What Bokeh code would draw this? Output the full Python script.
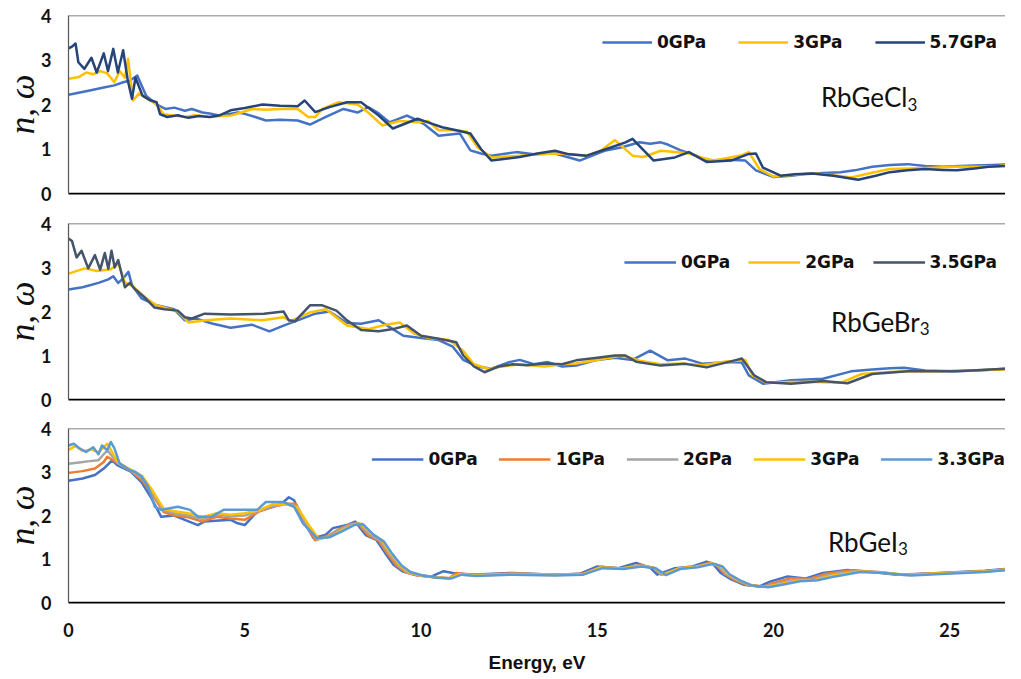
from bokeh.plotting import figure
from bokeh.models import Range1d, FixedTicker, Span, Label
from bokeh.layouts import column
from bokeh.embed import file_html
from bokeh.resources import INLINE

# ---------------- data (energy in eV, refractive index n) ----------------
# RbGeCl3
cl_0_e = [0, 0.5, 1.0, 1.3, 1.55, 1.75, 1.95, 2.2, 2.5, 2.75, 3.0, 3.3, 3.5, 3.8, 4.0, 4.3, 4.8, 5.0, 5.3, 5.6, 6.0, 6.5, 6.85, 7.3, 7.8, 8.2, 8.5, 8.8, 9.1, 9.6, 9.8, 10.1, 10.5, 11.1, 11.4, 11.7, 12.0, 12.7, 13.2, 13.8, 14.5, 15.2, 15.7, 16.2, 16.5, 16.8, 17.0, 17.4, 17.8, 18.1, 18.7, 19.2, 19.5, 20.0, 20.5, 20.9, 21.4, 21.9, 22.3, 22.8, 23.3, 23.8, 24.3, 24.8, 25.3, 25.7, 26.2, 26.8]
cl_0_n = [2.22, 2.3, 2.38, 2.43, 2.5, 2.54, 2.65, 2.2, 2.0, 1.9, 1.93, 1.86, 1.9, 1.82, 1.8, 1.75, 1.82, 1.79, 1.72, 1.64, 1.66, 1.64, 1.55, 1.72, 1.9, 1.82, 1.94, 1.8, 1.6, 1.75, 1.68, 1.55, 1.3, 1.35, 0.97, 0.9, 0.85, 0.93, 0.88, 0.9, 0.74, 0.96, 1.04, 1.15, 1.12, 1.15, 1.1, 0.96, 0.85, 0.74, 0.76, 0.74, 0.52, 0.37, 0.4, 0.44, 0.46, 0.48, 0.52, 0.6, 0.64, 0.66, 0.62, 0.6, 0.62, 0.63, 0.64, 0.66]

cl_3_e = [0, 0.3, 0.5, 0.7, 0.9, 1.1, 1.3, 1.45, 1.6, 1.69, 1.83, 2.0, 2.2, 2.5, 2.7, 3.0, 3.3, 3.6, 4.0, 4.3, 4.6, 4.9, 5.2, 5.6, 6.0, 6.5, 6.8, 7.0, 7.2, 7.66, 8.2, 8.5, 8.9, 9.4, 9.9, 10.2, 10.5, 11.0, 11.3, 11.6, 12.0, 12.8, 13.3, 13.8, 14.3, 14.7, 15.1, 15.5, 16.0, 16.3, 16.8, 17.2, 17.6, 18.0, 18.3, 18.7, 19.1, 19.3, 19.6, 20.0, 20.6, 21.2, 21.8, 22.2, 22.7, 23.3, 23.9, 24.5, 25.1, 25.8, 26.4, 26.8]
cl_3_n = [2.58, 2.62, 2.72, 2.68, 2.75, 2.7, 2.5, 2.75, 2.6, 3.03, 2.09, 2.25, 2.15, 2.0, 1.78, 1.75, 1.72, 1.76, 1.72, 1.74, 1.75, 1.82, 1.9, 1.88, 1.9, 1.9, 1.72, 1.72, 1.9, 2.05, 2.0, 1.82, 1.53, 1.63, 1.6, 1.63, 1.42, 1.42, 1.39, 1.04, 0.81, 0.85, 0.88, 0.9, 0.88, 0.85, 0.96, 1.2, 0.85, 0.82, 0.96, 0.93, 0.9, 0.8, 0.74, 0.8, 0.86, 0.93, 0.55, 0.38, 0.42, 0.45, 0.4, 0.36, 0.45, 0.55, 0.56, 0.58, 0.6, 0.6, 0.62, 0.65]

cl_57_e = [0, 0.1, 0.2, 0.28, 0.45, 0.65, 0.8, 1.0, 1.12, 1.27, 1.4, 1.55, 1.68, 1.8, 1.9, 2.1, 2.3, 2.5, 2.6, 2.8, 3.1, 3.4, 3.7, 4.0, 4.3, 4.6, 5.0, 5.5, 6.0, 6.5, 6.7, 7.0, 7.4, 7.9, 8.3, 8.8, 9.2, 9.9, 10.3, 10.6, 11.0, 11.4, 11.7, 12.0, 12.8, 13.3, 13.8, 14.2, 14.7, 15.3, 15.8, 16.0, 16.6, 17.2, 17.6, 18.1, 18.8, 19.3, 19.5, 19.7, 20.2, 20.6, 21.1, 21.7, 22.4, 22.9, 23.3, 23.8, 24.3, 24.8, 25.2, 25.7, 26.1, 26.8]
cl_57_n = [3.26, 3.3, 3.37, 2.95, 2.8, 3.05, 2.72, 3.15, 2.75, 3.25, 2.72, 3.22, 2.55, 2.13, 2.6, 2.2, 2.1, 2.05, 1.78, 1.72, 1.76, 1.7, 1.74, 1.72, 1.76, 1.87, 1.92, 2.0, 1.97, 1.96, 2.09, 1.83, 1.94, 2.05, 2.05, 1.75, 1.46, 1.68, 1.57, 1.49, 1.42, 1.35, 1.0, 0.74, 0.82, 0.9, 0.96, 0.88, 0.85, 1.01, 1.15, 1.23, 0.74, 0.81, 0.93, 0.71, 0.74, 0.89, 0.9, 0.58, 0.4, 0.43, 0.45, 0.4, 0.31, 0.4, 0.48, 0.52, 0.55, 0.53, 0.52, 0.56, 0.6, 0.63]

# RbGeBr3
br_0_e = [0, 0.4, 0.85, 1.13, 1.27, 1.41, 1.55, 1.7, 1.8, 2.07, 2.5, 3.0, 3.3, 3.6, 4.1, 4.6, 5.2, 5.7, 6.1, 6.5, 7.0, 7.4, 7.9, 8.3, 8.8, 9.2, 9.5, 10.0, 10.5, 10.9, 11.2, 11.6, 12.0, 12.5, 12.8, 13.2, 13.6, 14.0, 14.4, 15.0, 15.5, 16.0, 16.5, 17.0, 17.5, 18.0, 18.7, 19.1, 19.3, 19.7, 20.5, 21.4, 22.2, 22.8, 23.3, 23.7, 24.3, 25.0, 25.8, 26.8]
br_0_n = [2.5, 2.55, 2.65, 2.73, 2.8, 2.65, 2.75, 2.9, 2.6, 2.3, 2.14, 2.05, 1.8, 1.84, 1.72, 1.63, 1.7, 1.55, 1.68, 1.8, 1.95, 2.0, 1.74, 1.72, 1.8, 1.6, 1.45, 1.4, 1.35, 1.2, 0.9, 0.75, 0.7, 0.85, 0.9, 0.8, 0.85, 0.75, 0.77, 0.9, 0.95, 0.9, 1.11, 0.89, 0.93, 0.81, 0.85, 0.84, 0.55, 0.36, 0.44, 0.47, 0.64, 0.68, 0.71, 0.72, 0.66, 0.64, 0.66, 0.71]

br_2_e = [0, 0.47, 0.8, 1.2, 1.41, 1.6, 1.8, 2.2, 2.5, 3.1, 3.4, 3.9, 4.6, 5.5, 6.1, 6.3, 6.85, 7.3, 7.9, 8.5, 9.0, 9.4, 9.8, 10.2, 10.8, 11.2, 11.5, 11.9, 12.3, 12.8, 13.5, 14.0, 14.4, 15.0, 15.7, 16.2, 16.8, 17.4, 18.0, 18.6, 19.2, 19.4, 19.8, 20.5, 21.2, 21.9, 22.5, 23.2, 23.8, 24.6, 25.5, 26.8]
br_2_n = [2.86, 2.98, 2.92, 2.96, 3.1, 2.66, 2.59, 2.3, 2.14, 2.0, 1.75, 1.8, 1.84, 1.8, 1.87, 1.78, 1.98, 2.05, 1.68, 1.6, 1.7, 1.75, 1.5, 1.4, 1.35, 1.1, 0.8, 0.7, 0.75, 0.8, 0.75, 0.8, 0.82, 0.9, 1.0, 0.88, 0.8, 0.82, 0.78, 0.86, 0.9, 0.55, 0.38, 0.4, 0.4, 0.38, 0.58, 0.62, 0.64, 0.64, 0.66, 0.69]

br_35_e = [0, 0.1, 0.23, 0.37, 0.56, 0.75, 0.9, 1.03, 1.13, 1.22, 1.31, 1.41, 1.6, 1.74, 1.88, 2.16, 2.44, 2.72, 3.1, 3.3, 3.5, 3.86, 4.6, 5.54, 6.1, 6.25, 6.43, 6.85, 7.2, 7.6, 7.9, 8.3, 8.8, 9.2, 9.6, 10.0, 10.5, 11.0, 11.2, 11.5, 11.8, 12.2, 12.6, 13.0, 13.5, 14.0, 14.4, 15.0, 15.5, 15.8, 16.1, 16.8, 17.5, 18.1, 18.9, 19.1, 19.45, 19.8, 20.5, 21.4, 22.1, 22.8, 23.8, 25.2, 26.8]
br_35_n = [3.66, 3.6, 3.23, 3.38, 2.98, 3.28, 2.95, 3.33, 2.97, 3.38, 3.0, 3.17, 2.55, 2.65, 2.51, 2.32, 2.09, 2.05, 2.02, 1.87, 1.84, 1.95, 1.93, 1.95, 2.0, 1.8, 1.78, 2.14, 2.14, 2.02, 1.8, 1.58, 1.55, 1.6, 1.68, 1.45, 1.38, 1.3, 1.0, 0.75, 0.62, 0.75, 0.8, 0.78, 0.82, 0.8, 0.89, 0.95, 1.0, 1.0, 0.86, 0.77, 0.81, 0.73, 0.89, 0.93, 0.55, 0.39, 0.36, 0.42, 0.37, 0.58, 0.64, 0.64, 0.71]

# RbGeI3
i_0_e = [0, 0.4, 0.75, 1.0, 1.24, 1.4, 1.78, 2.07, 2.35, 2.63, 3.0, 3.3, 3.67, 3.85, 4.6, 4.8, 5.0, 5.35, 5.8, 6.1, 6.25, 6.4, 6.6, 6.95, 7.3, 7.5, 7.9, 8.13, 8.43, 8.73, 8.98, 9.22, 9.47, 9.8, 10.3, 10.64, 10.9, 11.4, 12.6, 13.8, 14.5, 15.0, 15.6, 16.1, 16.5, 16.7, 17.2, 17.7, 18.1, 18.3, 18.5, 18.8, 19.15, 19.6, 19.9, 20.4, 20.9, 21.4, 22.1, 22.8, 23.5, 24.7, 26.0, 26.8]
i_0_n = [2.8, 2.85, 2.93, 3.08, 3.27, 3.15, 3.0, 2.77, 2.4, 1.97, 2.0, 1.9, 1.78, 1.86, 1.9, 1.82, 1.78, 2.09, 2.2, 2.31, 2.42, 2.35, 1.97, 1.48, 1.56, 1.71, 1.78, 1.86, 1.55, 1.44, 1.14, 0.87, 0.72, 0.64, 0.6, 0.72, 0.68, 0.64, 0.68, 0.64, 0.66, 0.83, 0.79, 0.91, 0.8, 0.64, 0.79, 0.83, 0.94, 0.87, 0.68, 0.53, 0.41, 0.37, 0.48, 0.6, 0.55, 0.68, 0.75, 0.7, 0.64, 0.68, 0.73, 0.79]

i_1_e = [0, 0.4, 0.75, 1.0, 1.1, 1.4, 1.8, 2.1, 2.4, 2.7, 3.0, 3.4, 3.8, 4.2, 4.6, 5.0, 5.4, 5.8, 6.2, 6.45, 6.7, 7.0, 7.4, 7.7, 8.0, 8.2, 8.5, 8.8, 9.05, 9.3, 9.55, 9.9, 10.4, 10.8, 11.0, 11.5, 12.6, 13.8, 14.6, 15.1, 15.7, 16.2, 16.6, 16.8, 17.3, 17.8, 18.2, 18.4, 18.6, 18.9, 19.25, 19.7, 20.0, 20.5, 21.0, 21.5, 22.2, 22.9, 23.6, 24.8, 26.0, 26.8]
i_1_n = [2.98, 3.02, 3.08, 3.23, 3.35, 3.2, 3.0, 2.8, 2.45, 2.08, 2.0, 1.96, 1.86, 1.97, 1.93, 1.9, 2.09, 2.2, 2.27, 2.27, 1.82, 1.43, 1.55, 1.7, 1.8, 1.83, 1.55, 1.42, 1.12, 0.85, 0.7, 0.62, 0.58, 0.56, 0.68, 0.64, 0.67, 0.64, 0.66, 0.82, 0.78, 0.86, 0.8, 0.64, 0.78, 0.82, 0.92, 0.85, 0.66, 0.52, 0.4, 0.36, 0.45, 0.56, 0.54, 0.66, 0.74, 0.7, 0.64, 0.68, 0.72, 0.78]

i_2_e = [0, 0.3, 0.6, 0.85, 1.1, 1.4, 1.8, 2.1, 2.4, 2.7, 3.0, 3.4, 3.8, 4.2, 4.6, 5.0, 5.4, 5.8, 6.2, 6.5, 6.75, 7.05, 7.4, 7.7, 8.05, 8.25, 8.55, 8.85, 9.1, 9.35, 9.6, 9.95, 10.4, 10.8, 11.1, 11.5, 12.6, 13.8, 14.6, 15.1, 15.7, 16.2, 16.6, 16.85, 17.3, 17.8, 18.2, 18.45, 18.65, 18.95, 19.3, 19.75, 20.1, 20.6, 21.1, 21.6, 22.3, 23.0, 23.7, 24.8, 26.0, 26.8]
i_2_n = [3.19, 3.22, 3.25, 3.27, 3.5, 3.2, 3.02, 2.85, 2.5, 2.12, 2.05, 2.0, 1.92, 2.02, 1.98, 2.0, 2.1, 2.22, 2.27, 2.2, 1.8, 1.45, 1.52, 1.68, 1.8, 1.82, 1.56, 1.42, 1.12, 0.86, 0.7, 0.62, 0.58, 0.56, 0.66, 0.63, 0.66, 0.64, 0.65, 0.81, 0.78, 0.85, 0.8, 0.64, 0.78, 0.82, 0.9, 0.84, 0.66, 0.52, 0.4, 0.36, 0.43, 0.52, 0.53, 0.64, 0.72, 0.7, 0.63, 0.67, 0.71, 0.77]

i_3_e = [0, 0.2, 0.4, 0.65, 0.85, 1.1, 1.4, 1.8, 2.1, 2.4, 2.7, 3.0, 3.4, 3.8, 4.2, 4.6, 5.0, 5.4, 5.8, 6.2, 6.5, 6.8, 7.1, 7.45, 7.75, 8.1, 8.3, 8.6, 8.9, 9.15, 9.4, 9.65, 10.0, 10.4, 10.8, 11.1, 11.5, 12.6, 13.8, 14.6, 15.1, 15.7, 16.2, 16.6, 16.9, 17.3, 17.8, 18.25, 18.5, 18.7, 19.0, 19.35, 19.8, 20.2, 20.7, 21.2, 21.7, 22.4, 23.1, 23.8, 24.8, 26.0, 26.8]
i_3_n = [3.51, 3.6, 3.48, 3.52, 3.45, 3.65, 3.22, 3.04, 2.9, 2.55, 2.15, 2.1, 2.05, 1.96, 2.05, 2.02, 2.05, 2.12, 2.26, 2.25, 2.18, 1.8, 1.46, 1.52, 1.66, 1.79, 1.81, 1.58, 1.42, 1.12, 0.86, 0.7, 0.62, 0.58, 0.56, 0.65, 0.62, 0.65, 0.63, 0.65, 0.8, 0.78, 0.84, 0.8, 0.64, 0.78, 0.82, 0.9, 0.84, 0.66, 0.52, 0.4, 0.36, 0.42, 0.5, 0.52, 0.62, 0.71, 0.69, 0.63, 0.67, 0.71, 0.77]

i_33_e = [0, 0.15, 0.3, 0.5, 0.7, 0.85, 0.95, 1.1, 1.2, 1.3, 1.45, 1.7, 1.9, 2.07, 2.26, 2.45, 2.63, 3.1, 3.45, 3.67, 4.05, 4.4, 4.8, 5.35, 5.6, 6.1, 6.4, 6.65, 7.05, 7.4, 7.8, 8.1, 8.35, 8.65, 8.95, 9.2, 9.45, 9.7, 10.05, 10.45, 10.85, 11.15, 11.55, 12.6, 13.8, 14.6, 15.15, 15.75, 16.25, 16.65, 16.95, 17.35, 17.85, 18.3, 18.55, 18.75, 19.05, 19.4, 19.85, 20.25, 20.75, 21.25, 21.75, 22.45, 23.15, 23.9, 24.9, 26.0, 26.8]
i_33_n = [3.61, 3.65, 3.55, 3.46, 3.57, 3.41, 3.61, 3.5, 3.69, 3.55, 3.2, 3.06, 3.0, 2.9, 2.66, 2.2, 2.13, 2.2, 2.13, 1.97, 1.97, 2.13, 2.13, 2.13, 2.31, 2.31, 2.2, 1.82, 1.48, 1.5, 1.65, 1.78, 1.8, 1.56, 1.4, 1.1, 0.85, 0.7, 0.62, 0.57, 0.55, 0.64, 0.61, 0.64, 0.62, 0.64, 0.79, 0.77, 0.83, 0.79, 0.63, 0.77, 0.81, 0.89, 0.83, 0.65, 0.51, 0.39, 0.35, 0.41, 0.49, 0.51, 0.6, 0.7, 0.68, 0.62, 0.66, 0.7, 0.76]

x_ticks = [0, 5, 10, 15, 20, 25]
y_ticks = [0, 1, 2, 3, 4]
X_MAX = 26.58

panels = [
    dict(name="RbGeCl", sub="3", series=[
        (cl_0_e, cl_0_n, "0GPa", "#4472C4"),
        (cl_3_e, cl_3_n, "3GPa", "#FFC000"),
        (cl_57_e, cl_57_n, "5.7GPa", "#264478")],
        h=208, top=15, bottom=15, lab_x=23.8, lab_y=2.16, sub_y=2.0,
        spacing=32, label_h=38, margin=8, padding=7, glyph_w=50),
    dict(name="RbGeBr", sub="3", series=[
        (br_0_e, br_0_n, "0GPa", "#4472C4"),
        (br_2_e, br_2_n, "2GPa", "#FFC000"),
        (br_35_e, br_35_n, "3.5GPa", "#44546A")],
        h=205, top=15, bottom=14, lab_x=24.15, lab_y=1.77, sub_y=1.61,
        spacing=18, label_h=62, margin=8, padding=7, glyph_w=52),
    dict(name="RbGeI", sub="3", series=[
        (i_0_e, i_0_n, "0GPa", "#4472C4"),
        (i_1_e, i_1_n, "1GPa", "#ED7D31"),
        (i_2_e, i_2_n, "2GPa", "#A5A5A5"),
        (i_3_e, i_3_n, "3GPa", "#FFC000"),
        (i_33_e, i_33_n, "3.3GPa", "#5B9BD5")],
        h=262, top=15, bottom=72, lab_x=23.53, lab_y=1.4, sub_y=1.24,
        spacing=21, label_h=62, margin=0, padding=1, glyph_w=52),
]

figs = []
for k, pd_ in enumerate(panels):
    last = (k == len(panels) - 1)
    p = figure(width=1005, height=pd_["h"], output_backend="svg", toolbar_location=None,
               x_range=Range1d(0, X_MAX), y_range=Range1d(0, 4),
               min_border_left=62, min_border_right=0,
               min_border_top=pd_["top"], min_border_bottom=pd_["bottom"])
    p.outline_line_color = None
    p.background_fill_color = "white"
    p.border_fill_color = "white"
    p.xgrid.visible = False
    p.ygrid.visible = False

    for e, n, lab, col in pd_["series"]:
        p.line(e, n, line_color=col, line_width=2.5, legend_label=lab, line_join="round")

    # y axis
    ya = p.yaxis[0]
    ya.ticker = FixedTicker(ticks=y_ticks)
    ya.minor_tick_line_color = None
    ya.major_tick_line_color = None
    ya.major_tick_out = 0
    ya.major_tick_in = 0
    ya.major_label_standoff = 17
    ya.major_label_text_font = "Lato"
    ya.major_label_text_font_style = "bold"
    ya.major_label_text_font_size = "18px"
    ya.major_label_text_color = "#111111"
    ya.axis_line_color = "#595959"
    ya.axis_line_width = 1.25
    ya.axis_label = "n, ω"
    ya.axis_label_text_font = "Liberation Serif"
    ya.axis_label_text_font_style = "italic"
    ya.axis_label_text_font_size = "35px"
    ya.axis_label_text_color = "#111111"
    ya.axis_label_standoff = -4

    # x axis
    xa = p.xaxis[0]
    xa.minor_tick_line_color = None
    xa.major_tick_line_color = None
    xa.major_tick_out = 0
    xa.major_tick_in = 0
    xa.axis_line_color = "#000000"
    xa.axis_line_width = 1.75
    if last:
        xa.ticker = FixedTicker(ticks=x_ticks)
        xa.major_label_standoff = 20
        xa.major_label_text_font = "Lato"
        xa.major_label_text_font_style = "bold"
        xa.major_label_text_font_size = "18px"
        xa.major_label_text_color = "#111111"
        xa.axis_label = "Energy, eV"
        xa.axis_label_text_font = "Liberation Sans"
        xa.axis_label_text_font_style = "bold"
        xa.axis_label_text_font_size = "19px"
        xa.axis_label_text_color = "#111111"
        xa.axis_label_standoff = 12
    else:
        xa.ticker = FixedTicker(ticks=[])
        xa.major_label_standoff = 0

    # top border
    p.add_layout(Span(location=4, dimension="width", line_color="#595959", line_width=1.25))

    # compound name with subscript
    p.add_layout(Label(x=pd_["lab_x"], y=pd_["lab_y"], text=pd_["name"], text_align="right",
                       text_baseline="middle", text_font="Lato", text_font_size="26px",
                       text_color="#111111"))
    p.add_layout(Label(x=pd_["lab_x"], y=pd_["sub_y"], text=pd_["sub"], text_align="left",
                       text_baseline="middle", text_font="Lato", text_font_size="17px",
                       text_color="#111111"))

    lg = p.legend[0]
    lg.orientation = "horizontal"
    lg.location = "top_right"
    lg.border_line_color = None
    lg.background_fill_alpha = 0
    lg.label_text_font = "DejaVu Sans"
    lg.label_text_font_style = "bold"
    lg.label_text_font_size = "17px"
    lg.label_text_color = "#111111"
    lg.glyph_width = pd_["glyph_w"]
    lg.glyph_height = 20
    lg.label_height = pd_["label_h"]
    lg.label_standoff = 5
    lg.spacing = pd_["spacing"]
    lg.margin = pd_["margin"]
    lg.padding = pd_["padding"]
    figs.append(p)

layout = column(*figs, spacing=0)
open("out.html", "w").write(file_html(layout, INLINE))
